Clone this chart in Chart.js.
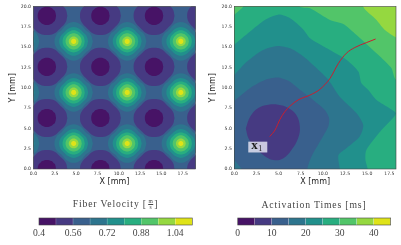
<!DOCTYPE html>
<html><head><meta charset="utf-8">
<script src="https://cdn.jsdelivr.net/npm/chart.js@4"></script>
<style>
html,body{margin:0;padding:0;background:#fff;width:401px;height:245px;overflow:hidden}
canvas{position:absolute;filter:blur(.35px)}
.t{position:absolute;font-family:"Liberation Serif","DejaVu Serif",serif;font-size:9.7px;letter-spacing:.85px;color:#444;white-space:nowrap;transform:translateX(-50%);line-height:10px;filter:blur(.25px)}
.frac{display:inline-block;vertical-align:middle;text-align:center;font-size:5.5px;line-height:5px;letter-spacing:0;margin:0 1.5px}
.frac b{display:block;font-weight:normal;border-bottom:.6px solid #444}
</style></head><body>
<canvas id="left" style="left:0;top:0"></canvas>
<canvas id="right" style="left:200px;top:0"></canvas>
<canvas id="cbLeft" style="left:20px;top:212px"></canvas>
<canvas id="cbRight" style="left:220px;top:212px"></canvas>
<div class="t" style="left:115.5px;top:199px">Fiber Velocity [<span class="frac"><b>m</b>s</span>]</div>
<div class="t" style="left:314px;top:200px">Activation Times [ms]</div>
<script>
const binColors = ['#471366','#463a82','#39608d','#2d758e','#21908c','#28ae80','#52c569','#95d840','#dfe318'];

// Colour bars
const velocityEdges = [0.4,0.48,0.56,0.64,0.72,0.8,0.88,0.96,1.04,1.12];
const velocityTicks = [0.4,0.56,0.72,0.88,1.04];
const timeEdges = [0,5,10,15,20,25,30,35,40,45];
const timeTicks = [0,10,20,30,40];

// Fiber velocity field: one outline per band (first quadrant, offsets from its centre, in mm)
const peakX = [-1.57,4.71,10.99,17.28];
const peakY = [3.14,9.42,15.71];
const valleyX = [-4.71,1.57,7.85,14.14,20.42];
const valleyY = [0,6.28,12.57,18.85];
const valleyRing2 = [[2.4,0],[2.2,0.8],[1.55,1.55],[0.8,2.2],[0,2.35]];
const valleyRing1 = [[1.08,0],[0.95,0.58],[0.75,0.78],[0.55,0.97],[0,1.12]];
const peakRings = [
  {band:3,q:[[2.25,0],[2.0,0.85],[1.4,1.4],[0.85,2.05],[0,2.38]]},
  {band:4,q:[[1.7,0],[1.5,0.7],[1.1,1.13],[0.65,1.55],[0,1.78]]},
  {band:5,q:[[1.3,0],[1.18,0.55],[0.88,0.92],[0.5,1.22],[0,1.36]]},
  {band:6,q:[[0.95,0],[0.85,0.42],[0.65,0.68],[0.38,0.9],[0,1.0]]},
  {band:7,q:[[0.58,0],[0.52,0.25],[0.4,0.42],[0.23,0.55],[0,0.6]]},
  {band:8,q:[[0.3,0],[0.27,0.13],[0.21,0.22],[0.12,0.29],[0,0.31]]}
];

// Activation time field: boundaries in mm, painted from the latest band down to the earliest
const bandFrame = [[-5,-5],[-5,25],[25,25],[25,-5]];
const atBand7 = [[-5,-5],[-5,25],[14.55,25],[14.55,20],[16.05,18.35],[17,17.1],[18.25,16.2],[25,14],[25,-5]];
const atBand6 = [[-5,-5],[-5,14],[0,19],[1,20],[3,25],[7.4,25],[7.4,20],[8.55,19.8],[10.8,18.35],[12.3,17.85],[13.8,16.5],[16.45,13.85],[17.75,12.4],[18.25,11],[25,9],[25,-5]];
const atBand5 = [[-5,-5],[-5,10],[0,15.3],[1.75,16.9],[3.45,18.35],[4.95,19],[6.3,18.55],[7.8,17.15],[8.55,16.1],[10.8,14.65],[12.65,13.45],[14,12],[14.35,10.55],[15.1,9.75],[16.05,8.5],[17.55,7.45],[18.25,6.8],[16.45,4.6],[14.9,2.35],[14.8,1.1],[15.05,0],[15.2,-5]];
const atBand4 = [[-5,-5],[-5,7],[0,11.6],[1.4,13.2],[3.25,14.65],[4.85,15.15],[6.3,14.85],[7.8,13.85],[9.3,12.4],[10.6,11],[11.9,8.9],[13.8,6.85],[14.55,5.4],[14.15,4],[12.65,2.55],[11.75,1.7],[11.9,0],[12,-5]];
const atBand3 = [[-5,-5],[-5,4],[0,8.4],[1.75,9.95],[3.45,10.95],[4.85,11.25],[6.1,10.85],[7.4,9.75],[8.9,8.5],[10.2,7.3],[10.7,6.25],[10.6,5.2],[9.65,3.35],[8.7,1.5],[8.25,0],[8,-5]];
const atCorner = [[-5,-5],[-5,0.5],[0,1.1],[0.85,0],[2,-5]];
const atBand2 = [[1.3,5.0],[1.8,6.45],[2.7,7.5],[3.85,7.9],[4.95,7.9],[6.1,7.5],[7.0,6.65],[7.4,5.2],[7.2,3.8],[6.45,2.35],[5.5,1.3],[4.4,1.1],[3.3,1.7],[2.3,2.75],[1.6,3.8]];

// Conduction path
const pathX = [4.0,4.6,5.15,5.7,6.3,7.2,8.55,9.65,10.8,11.75,12.65,13.6,14.9,15.95];
const pathY = [4.0,4.8,6.1,7.05,7.75,8.5,9.1,9.8,11.15,13.0,14.25,14.95,15.55,16.0];
const markerX = [2.65]; const markerY = [2.65]; const markerText = ['x','1'];

const xyz = (arr) => { const d = arr.map(p=>({x:p[0],y:p[1]})); d.push({...d[0]}); return d; };
const poly = (arr, band, tension=0.35) => ({data:xyz(arr),showLine:true,fill:'shape',
  backgroundColor:binColors[band],borderWidth:0,borderColor:binColors[band],pointRadius:0,tension});
function ring(q,cx,cy){
  const a=[];
  q.forEach(p=>a.push([cx+p[0],cy+p[1]]));
  [...q].reverse().slice(1).forEach(p=>a.push([cx-p[0],cy+p[1]]));
  q.slice(1).forEach(p=>a.push([cx-p[0],cy-p[1]]));
  [...q].reverse().slice(1,-1).forEach(p=>a.push([cx+p[0],cy-p[1]]));
  return a;
}

const leftSets = [poly(bandFrame,2,0)];
for (const cx of valleyX) for (const cy of valleyY) leftSets.push(poly(ring(valleyRing2,cx,cy),1,0.4));
for (const cx of valleyX) for (const cy of valleyY) leftSets.push(poly(ring(valleyRing1,cx,cy),0,0.4));
for (const r of peakRings) for (const cx of peakX) for (const cy of peakY) leftSets.push(poly(ring(r.q,cx,cy),r.band,0.4));

const rightSets = [poly(bandFrame,7,0),poly(atBand7,6,0.2),poly(atBand6,5,0.2),poly(atBand5,4,0.25),
  poly(atBand4,3,0.25),poly(atBand3,2,0.25),poly(atCorner,3,0),poly(atBand2,1,0.4),
  {data:pathX.map((x,i)=>({x,y:pathY[i]})),showLine:true,fill:false,borderColor:'#c81e30',borderWidth:1,pointRadius:0,cubicInterpolationMode:'monotone'}];

const frame = {id:'frame',afterDatasetsDraw(c){const a=c.chartArea,g=c.ctx;g.save();g.strokeStyle='#444';g.lineWidth=.6;
  g.strokeRect(a.left,a.top,a.width,a.height);g.restore();}};
const marker = {id:'marker',afterDatasetsDraw(c){const g=c.ctx,x=c.scales.x.getPixelForValue(markerX[0]),y=c.scales.y.getPixelForValue(markerY[0]);
  g.save();g.fillStyle='rgba(224,224,240,.85)';g.fillRect(x-9.5,y-5.8,19,10.8);
  g.fillStyle='#1c1c1c';g.textBaseline='alphabetic';g.textAlign='left';
  g.font='bold 13px "Liberation Serif"';g.fillText(markerText[0],x-6.5,y+1.8);
  g.font='8px "Liberation Serif"';g.fillText(markerText[1],x+0.5,y+3.8);g.restore();}};

function field(id,w,xMax,sets,left,right,plugins){
  const el=document.getElementById(id);el.width=w;el.height=190;el.style.width=w+'px';el.style.height='190px';
  return new Chart(el,{type:'scatter',data:{datasets:[...sets].reverse()},plugins,options:{
    responsive:false,animation:false,events:[],
    layout:{autoPadding:false,padding:{top:6.5,right,bottom:0,left:0}},
    plugins:{legend:{display:false},tooltip:{enabled:false}},
    elements:{line:{capBezierPoints:false}},
    scales:{
      x:{type:'linear',min:0,max:xMax,grid:{display:false,drawTicks:true,tickLength:1.5,tickWidth:.5,tickColor:'#333'},border:{display:false},
        ticks:{stepSize:2.5,includeBounds:false,autoSkip:false,maxRotation:0,padding:1,color:'#333',font:{family:'DejaVu Sans',size:4.6},callback:v=>v.toFixed(1)},
        title:{display:true,text:'X [mm]',color:'#222',padding:3,font:{family:'DejaVu Sans',size:8}},
        afterFit(s){s.height=21;}},
      y:{type:'linear',min:0,max:20,grid:{display:false,tickLength:1.5,tickWidth:.5,tickColor:'#333'},border:{display:false},
        ticks:{stepSize:2.5,autoSkip:false,maxRotation:0,padding:1,color:'#333',font:{family:'DejaVu Sans',size:4.6},callback:v=>v.toFixed(1)},
        title:{display:true,text:'Y [mm]',color:'#222',padding:8,font:{family:'DejaVu Sans',size:8}},
        afterFit(s){s.width=left;}}
    }}});
}
field('left',200,19,leftSets,33.5,4.5,[frame]);
field('right',200,18.25,rightSets,34.3,4,[frame,marker]);

function colorbar(id,edges,ticks,pad,fmt){
  const el=document.getElementById(id);el.width=180;el.height=33;el.style.width='180px';el.style.height='33px';
  const sets=binColors.map((c,i)=>({data:[[edges[i],edges[i+1]]],backgroundColor:c,borderColor:'rgba(255,255,255,.3)',borderSkipped:false,borderWidth:{left:0,top:0,bottom:0,right:.5},barPercentage:1,categoryPercentage:1,grouped:false}));
  return new Chart(el,{type:'bar',data:{labels:[''],datasets:sets},plugins:[frame],options:{
    indexAxis:'y',responsive:false,animation:false,events:[],
    layout:{autoPadding:false,padding:{top:6,left:pad[0],right:pad[1],bottom:0}},
    plugins:{legend:{display:false},tooltip:{enabled:false}},
    scales:{
      x:{type:'linear',min:edges[0],max:edges[edges.length-1],afterBuildTicks(s){s.ticks=ticks.map(value=>({value}));},
        grid:{display:false,tickLength:0},border:{display:false},
        ticks:{autoSkip:false,maxRotation:0,padding:3,color:'#444',font:{family:'Liberation Serif',size:9.6},callback:v=>fmt(v)},
        afterFit(s){s.height=20;}},
      y:{display:false,stacked:true}
    }}});
}
colorbar('cbLeft',velocityEdges,velocityTicks,[19,7.7],v=>String(+v.toFixed(2)));
colorbar('cbRight',timeEdges,timeTicks,[17.7,9.3],v=>String(v));
</script></body></html>
